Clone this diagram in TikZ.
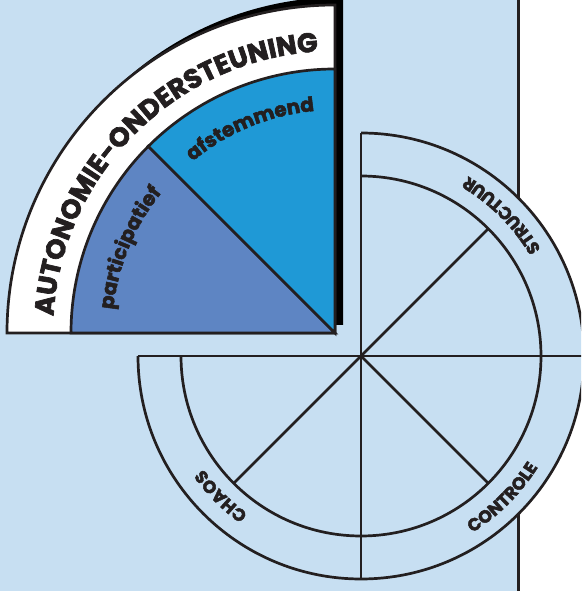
\documentclass[tikz,border=0pt]{standalone}
\usepackage{fontspec}
\newfontfamily\pop{Poppins}[UprightFeatures={FakeBold=2.5}, BoldFeatures={FakeBold=2.5}]
\usetikzlibrary{decorations.text}
\definecolor{bgblue}{HTML}{C7DFF2}
\definecolor{darkline}{HTML}{231F20}
\definecolor{skyblue}{HTML}{1F99D6}
\definecolor{midblue}{HTML}{5E85C3}
\begin{document}
\begin{tikzpicture}[x=1pt,y=1pt,
  wl/.style={draw=darkline, line width=2.7pt},
  capsbig/.style={decorate, decoration={text along path, text align=center, text color=darkline,
     text={|\pop\bfseries\fontsize{27}{27}\selectfont|#1}}},
  capssmall/.style={decorate, decoration={text along path, text align=center, text color=darkline,
     text={|\pop\bfseries\fontsize{17.5}{17.5}\selectfont|#1}}},
  lowtext/.style={decorate, decoration={text along path, text align=center, text color=darkline,
     text={|\pop\bfseries\fontsize{20}{20}\selectfont|#1}}}]
\useasboundingbox (0,0) rectangle (581,591);
\clip (0,0) rectangle (581,591);
\coordinate (W) at (361,235);
\coordinate (Q) at (335,258);

% background
\fill[bgblue] (0,0) rectangle (518,591);
\draw[darkline, line width=3pt] (518,0) -- (518,591);

% wheel fill
\fill[bgblue] (W) -- ([shift={(0:223)}]W) arc (0:90:223) -- cycle;
\fill[bgblue] (W) -- ([shift={(180:223)}]W) arc (180:360:223) -- cycle;
% wheel lines
\draw[wl] ([shift={(0:223)}]W) arc (0:90:223);
\draw[wl] ([shift={(0:180)}]W) arc (0:90:180);
\draw[wl] ([shift={(180:223)}]W) arc (180:360:223);
\draw[wl] ([shift={(180:180)}]W) arc (180:360:180);
\draw[wl] ([shift={(180:223)}]W) -- ([shift={(0:223)}]W);
\draw[wl] ([shift={(90:223)}]W) -- ([shift={(270:223)}]W);
\draw[wl] (W) -- ([shift={(45:180)}]W);
\draw[wl] (W) -- ([shift={(225:180)}]W);
\draw[wl] (W) -- ([shift={(315:180)}]W);

% wheel labels
\path[capssmall={STRUCTUUR}] ([shift={(0:209)}]W) arc (0:90:209);
\path[capssmall={CHAOS}] ([shift={(270:194)}]W) arc (270:180:194);
\path[capssmall={CONTROLE}] ([shift={(270:209)}]W) arc (270:360:209);

% autonomy quadrant
\fill[black] ([shift={(8,8)}]Q) -- ++(-328,0) arc (180:90:328) -- cycle;
\filldraw[fill=white, wl] (Q) -- ++(-328,0) arc (180:90:328) -- cycle;
\filldraw[fill=midblue, wl] (Q) -- ++(-264,0) arc (180:135:264) -- cycle;
\filldraw[fill=skyblue, wl] (Q) -- ++(135:264) arc (135:90:264) -- cycle;

\path[capsbig={AUTONOMIE-ONDERSTEUNING}] ([shift={(180:282)}]Q) arc (180:90:282);
\path[lowtext={participatief}] ([shift={(180:223)}]Q) arc (180:135:223);
\path[lowtext={afstemmend}] ([shift={(135:223)}]Q) arc (135:90:223);
\end{tikzpicture}
\end{document}
